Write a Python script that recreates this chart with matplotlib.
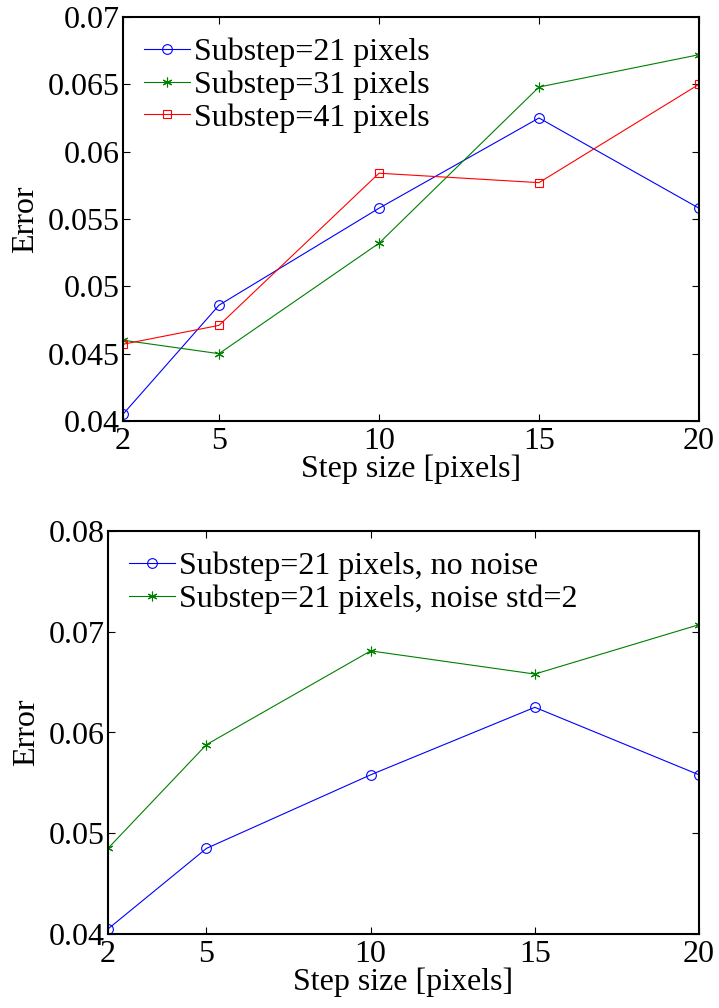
import numpy as np
import matplotlib
matplotlib.use("Agg")
import matplotlib.pyplot as plt

plt.rcParams['font.family'] = ['Liberation Serif', 'DejaVu Serif']

# datos
pasos = [2, 5, 10, 15, 20]
etiquetas_x = ['2', '5', '10', '15', '20']

err_sub21 = [0.0405, 0.0486, 0.0558, 0.0625, 0.0558]
err_sub31 = [0.0460, 0.0450, 0.0532, 0.0648, 0.0672]
err_sub41 = [0.0457, 0.0471, 0.0584, 0.0577, 0.0650]

err_sin_ruido = [0.0405, 0.0485, 0.0558, 0.0625, 0.0558]
err_ruido2 = [0.0485, 0.0588, 0.0681, 0.0658, 0.0707]

ticks_y1 = [0.04, 0.045, 0.05, 0.055, 0.06, 0.065, 0.07]
ticks_y2 = [0.04, 0.05, 0.06, 0.07, 0.08]

W, H = 719, 1008
fig = plt.figure(figsize=(W / 100, H / 100), dpi=100)

ax1 = fig.add_axes([123 / W, 1 - 421 / H, (699 - 123) / W, (421 - 17) / H])
ax2 = fig.add_axes([108 / W, 1 - 934 / H, (699 - 108) / W, (934 - 531) / H])

fs = 23
asterisco = (6, 2, 0)

def estilo(ax, yticks):
    ax.set_xlim(2, 20)
    ax.set_xticks(pasos)
    ax.set_xticklabels(etiquetas_x)
    ax.set_ylim(yticks[0], yticks[-1])
    ax.set_yticks(yticks)
    ax.set_yticklabels([('%g' % t) for t in yticks])
    ax.tick_params(direction='in', top=True, right=True, labelsize=fs,
                   length=5, width=0.8)
    ax.tick_params(axis='x', pad=4)
    ax.tick_params(axis='y', pad=2)
    for s in ax.spines.values():
        s.set_linewidth(1.5)
    ax.set_xlabel('Step size [pixels]', fontsize=fs, labelpad=-1)
    ax.set_ylabel('Error', fontsize=fs, labelpad=6)

def leyenda(ax):
    ax.legend(loc='upper left', frameon=False, fontsize=fs, handlelength=1.45,
              handletextpad=0.12, labelspacing=0.1, borderaxespad=0.35,
              borderpad=0.3)

# --- 1. substeps ---
ax1.plot(pasos, err_sub21, color='blue', marker='o', mfc='none', ms=7, mew=0.8, lw=0.8, label='Substep=21 pixels')
ax1.plot(pasos, err_sub31, color='green', marker=asterisco, ms=7, mew=0.8, lw=0.8, label='Substep=31 pixels')
ax1.plot(pasos, err_sub41, color='red', marker='s', mfc='none', ms=6, mew=0.8, lw=0.8, label='Substep=41 pixels')
estilo(ax1, ticks_y1)
leyenda(ax1)

# --- 2. ruido ---
ax2.plot(pasos, err_sin_ruido, color='blue', marker='o', mfc='none', ms=7, mew=0.8, lw=0.8, label='Substep=21 pixels, no noise')
ax2.plot(pasos, err_ruido2, color='green', marker=asterisco, ms=7, mew=0.8, lw=0.8, label='Substep=21 pixels, noise std=2')
estilo(ax2, ticks_y2)
leyenda(ax2)

fig.savefig('out.png', dpi=100)
